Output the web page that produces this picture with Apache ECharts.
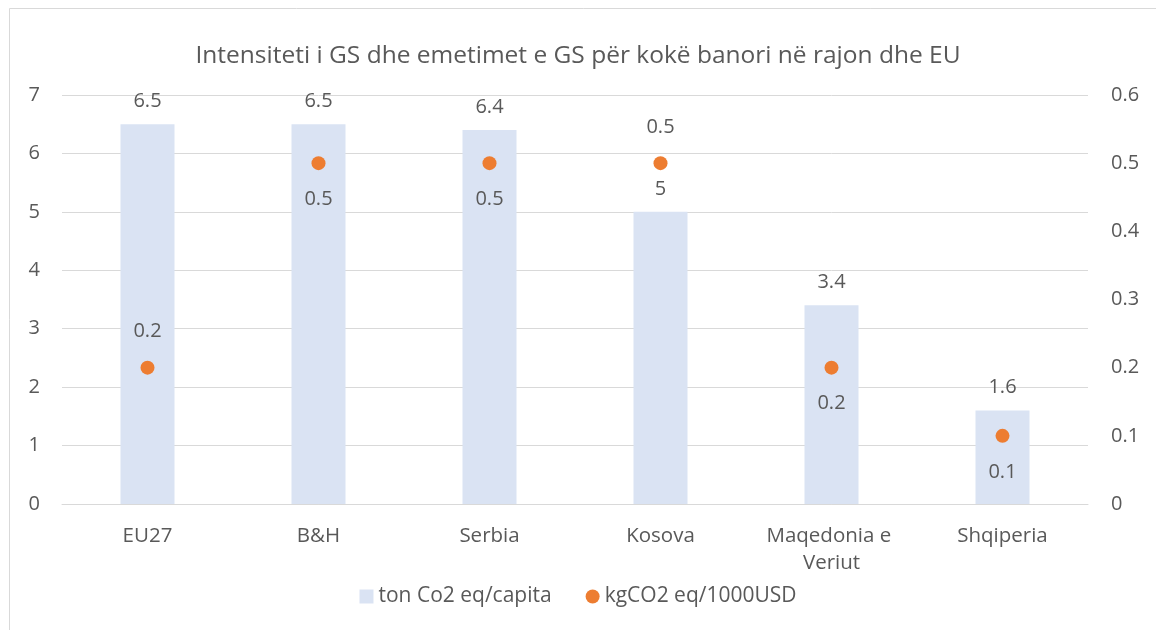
<!DOCTYPE html>
<html>
<head>
<meta charset="utf-8">
<script src="https://cdn.jsdelivr.net/npm/echarts@6/dist/echarts.min.js"></script>
<style>
html,body{margin:0;padding:0;background:#fff;}
#chart{width:1156px;height:630px;}
</style>
</head>
<body>
<div id="chart"></div>
<script>
const titleText = "Intensiteti i GS dhe emetimet e GS për kokë banori në rajon dhe EU";
const categories = ["EU27", "B&H", "Serbia", "Kosova", "Maqedonia e Veriut", "Shqiperia"];
const tonPerCapita = [6.5, 6.5, 6.4, 5, 3.4, 1.6];
const kgPer1000USD = [0.2, 0.5, 0.5, 0.5, 0.2, 0.1];
const dotLabelPos = ["top", "bottom", "bottom", "top", "bottom", "bottom"];
const seriesNames = ["ton Co2 eq/capita", "kgCO2 eq/1000USD"];

const FONT = "'Open Sans', sans-serif";
const TXT = "#595959";
const FS = 20;

const chart = echarts.init(document.getElementById('chart'), null, {renderer: 'canvas'});
chart.setOption({
  backgroundColor: '#fff',
  animation: false,
  textStyle: {fontFamily: FONT, color: TXT},
  graphic: [{
    type: 'rect', left: 7, top: 6,
    shape: {width: 1170, height: 700},
    style: {fill: 'none', stroke: '#D9D9D9', lineWidth: 1}, silent: true
  }],
  title: {
    text: titleText, left: 'center', top: 39,
    textStyle: {fontFamily: FONT, fontSize: 24.5, fontWeight: 'normal', color: TXT}
  },
  legend: {
    bottom: 18, left: 'center', itemGap: 34, itemWidth: 14, itemHeight: 14,
    textStyle: {fontFamily: FONT, fontSize: 21, color: TXT},
    data: [{name: seriesNames[0], icon: 'rect'}, {name: seriesNames[1], icon: 'circle'}]
  },
  grid: {left: 62, right: 68, top: 95, bottom: 126, containLabel: false},
  xAxis: {
    type: 'category', data: categories,
    axisLine: {lineStyle: {color: '#D9D9D9'}},
    axisTick: {show: false},
    axisLabel: {fontFamily: FONT, fontSize: 20.5, color: TXT, margin: 19, width: 150, overflow: 'break', lineHeight: 27, interval: 0}
  },
  yAxis: [{
    type: 'value', min: 0, max: 7, interval: 1,
    axisLine: {show: false}, axisTick: {show: false},
    splitLine: {lineStyle: {color: '#D9D9D9'}},
    axisLabel: {fontFamily: FONT, fontSize: FS, color: TXT, margin: 22}
  }, {
    type: 'value', min: 0, max: 0.6, interval: 0.1,
    axisLine: {show: false}, axisTick: {show: false},
    splitLine: {show: false},
    axisLabel: {fontFamily: FONT, fontSize: FS, color: TXT, margin: 23, formatter: v => v === 0 ? '0' : v.toFixed(1)}
  }],
  series: [{
    name: seriesNames[0], type: 'bar', data: tonPerCapita, barWidth: 54,
    itemStyle: {color: '#DAE3F3'},
    label: {show: true, position: 'top', distance: 13, fontFamily: FONT, fontSize: FS, color: TXT}
  }, {
    name: seriesNames[1], type: 'scatter', yAxisIndex: 1, symbol: 'circle', symbolSize: 14,
    itemStyle: {color: '#ED7D31', opacity: 1},
    data: kgPer1000USD.map((v, i) => ({value: v, label: {position: dotLabelPos[i]}})),
    label: {show: true, distance: 19, fontFamily: FONT, fontSize: FS, color: TXT}
  }]
});
</script>
</body>
</html>
